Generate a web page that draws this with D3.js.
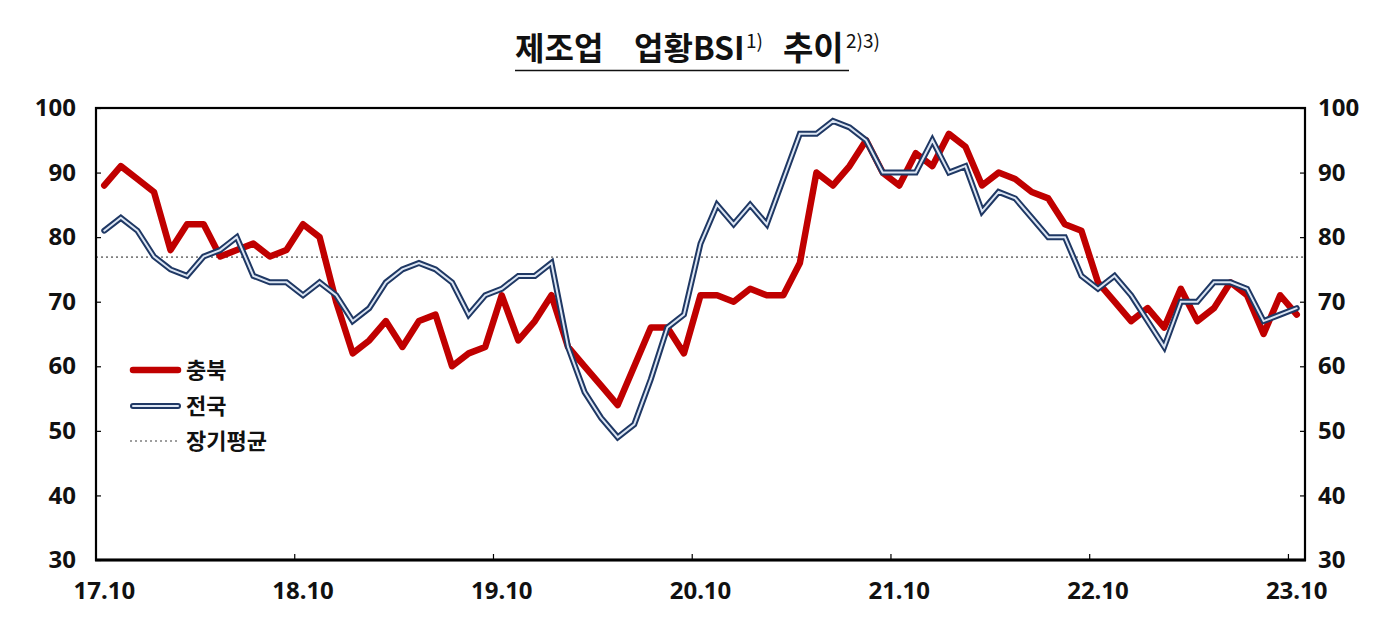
<!DOCTYPE html>
<html><head><meta charset="utf-8">
<script src="https://cdn.jsdelivr.net/npm/d3@7"></script>
<style>body{margin:0;background:#fff} svg{display:block}</style>
</head><body>
<svg id="chart" width="1400" height="631"></svg>
<script>
const months = [
 "17.10","17.11","17.12",
 "18.01","18.02","18.03","18.04","18.05","18.06","18.07","18.08","18.09","18.10","18.11","18.12",
 "19.01","19.02","19.03","19.04","19.05","19.06","19.07","19.08","19.09","19.10","19.11","19.12",
 "20.01","20.02","20.03","20.04","20.05","20.06","20.07","20.08","20.09","20.10","20.11","20.12",
 "21.01","21.02","21.03","21.04","21.05","21.06","21.07","21.08","21.09","21.10","21.11","21.12",
 "22.01","22.02","22.03","22.04","22.05","22.06","22.07","22.08","22.09","22.10","22.11","22.12",
 "23.01","23.02","23.03","23.04","23.05","23.06","23.07","23.08","23.09","23.10"];
const chungbuk = [88,91,89,87,78,82,82,77,78,79,77,78,82,80,70,62,64,67,63,67,68,60,62,63,71,64,67,71,63,60,57,54,60,66,66,62,71,71,70,72,71,71,76,90,88,91,95,90,88,93,91,96,94,88,90,89,87,86,82,81,73,70,67,69,66,72,67,69,73,71,65,71,68];
const national = [81,83,81,77,75,74,77,78,80,74,73,73,71,73,71,67,69,73,75,76,75,73,68,71,72,74,74,76,63,56,52,49,51,58,66,68,79,85,82,85,82,89,96,96,98,97,95,90,90,90,95,90,91,84,87,86,83,80,80,74,72,74,71,67,63,70,70,73,73,72,67,68,69];
const longTermAvg = 76.9;
const yTicks = [30,40,50,60,70,80,90,100];
const xTickLabels = ["17.10","18.10","19.10","20.10","21.10","22.10","23.10"];
const seriesNames = ["충북","전국","장기평균"];
const titleParts = ["제조업","업황BSI","1)","추이","2)3)"];

const RED = "#C00000", NAVY = "#1F3864", INNER = "#DCE6F4", GRAY = "#7F7F7F";
const FONT = "'Noto Sans','Noto Sans CJK KR',sans-serif";
const KFONT = "'Noto Sans CJK KR','Noto Sans',sans-serif";

const svg = d3.select("#chart");
const L = 96, R = 1305, T = 108, B = 560;
const x = d3.scaleBand().domain(months).range([L, R]).padding(0);
const y = d3.scaleLinear().domain([30, 100]).range([B, T]);
const bw = x.bandwidth();
const cx = m => x(m) + bw / 2;

// average line
svg.append("line")
  .attr("x1", L).attr("x2", R).attr("y1", y(longTermAvg)).attr("y2", y(longTermAvg))
  .attr("stroke", GRAY).attr("stroke-width", 1.6).attr("stroke-dasharray", "2,3");

const line = d3.line().x((d, i) => cx(months[i])).y(d => y(d));

svg.append("path").datum(chungbuk).attr("d", line)
  .attr("fill", "none").attr("stroke", RED).attr("stroke-width", 6.5)
  .attr("stroke-linejoin", "round").attr("stroke-linecap", "round");

svg.append("path").datum(national).attr("d", line)
  .attr("fill", "none").attr("stroke", NAVY).attr("stroke-width", 6)
  .attr("stroke-linejoin", "miter").attr("stroke-linecap", "round");
svg.append("path").datum(national).attr("d", line)
  .attr("fill", "none").attr("stroke", INNER).attr("stroke-width", 2)
  .attr("stroke-linejoin", "miter").attr("stroke-linecap", "round");

// frame
svg.append("rect").attr("x", L).attr("y", T).attr("width", R - L).attr("height", B - T)
  .attr("fill", "none").attr("stroke", "#000").attr("stroke-width", 2.2);
svg.append("line").attr("x1", L - 1).attr("x2", R + 1).attr("y1", B).attr("y2", B)
  .attr("stroke", "#000").attr("stroke-width", 3.2);

// axes
function styleAxis(g) {
  g.select(".domain").remove();
  g.selectAll("text").attr("font-family", FONT).attr("font-weight", "bold")
    .attr("font-size", 24).attr("fill", "#111");
  g.selectAll(".tick line").attr("stroke", "#000").attr("stroke-width", 1.2);
}
svg.append("g").attr("transform", `translate(${L},0)`)
  .call(d3.axisLeft(y).tickValues(yTicks).tickSize(-5).tickPadding(20)).call(styleAxis);
svg.append("g").attr("transform", `translate(${R},0)`)
  .call(d3.axisRight(y).tickValues(yTicks).tickSize(-5).tickPadding(13)).call(styleAxis);
svg.append("g").attr("transform", `translate(0,${B})`)
  .call(d3.axisBottom(x).tickValues(xTickLabels).tickSize(0).tickPadding(22)).call(styleAxis);
// x ticks at category boundaries
svg.append("g").selectAll("line").data(xTickLabels).join("line")
  .attr("x1", d => x(d)).attr("x2", d => x(d)).attr("y1", B).attr("y2", B - 6)
  .attr("stroke", "#000").attr("stroke-width", 1.2);

// legend
const lg = svg.append("g").attr("font-family", KFONT).attr("font-weight", "bold").attr("font-size", 22);
const ly = [370, 406, 441];
lg.append("line").attr("x1", 133).attr("x2", 178).attr("y1", ly[0]).attr("y2", ly[0])
  .attr("stroke", RED).attr("stroke-width", 6.5).attr("stroke-linecap", "round");
lg.append("line").attr("x1", 133).attr("x2", 178).attr("y1", ly[1]).attr("y2", ly[1])
  .attr("stroke", NAVY).attr("stroke-width", 6).attr("stroke-linecap", "round");
lg.append("line").attr("x1", 133).attr("x2", 178).attr("y1", ly[1]).attr("y2", ly[1])
  .attr("stroke", INNER).attr("stroke-width", 2).attr("stroke-linecap", "round");
lg.append("line").attr("x1", 130).attr("x2", 177).attr("y1", ly[2]).attr("y2", ly[2])
  .attr("stroke", GRAY).attr("stroke-width", 1.6).attr("stroke-dasharray", "2,3");
seriesNames.forEach((n, i) => {
  lg.append("text").attr("x", 186).attr("y", ly[i]).attr("dy", "0.36em").attr("fill", "#111").text(n);
});

// title
const tg = svg.append("g").attr("font-family", KFONT).attr("fill", "#111");
const tx = [515, 634, 746, 783, 846];
const tyy = [60, 60, 48, 60, 48];
const tsz = [32, 32, 19, 33, 19];
const twt = ["bold", "bold", "normal", "bold", "normal"];
titleParts.forEach((t, i) => {
  tg.append("text").attr("x", tx[i]).attr("y", tyy[i]).attr("font-size", tsz[i])
    .attr("font-weight", twt[i]).text(t);
});
svg.append("line").attr("x1", 515).attr("x2", 849).attr("y1", 70.5).attr("y2", 70.5)
  .attr("stroke", "#111").attr("stroke-width", 1.6);
</script>
</body></html>
